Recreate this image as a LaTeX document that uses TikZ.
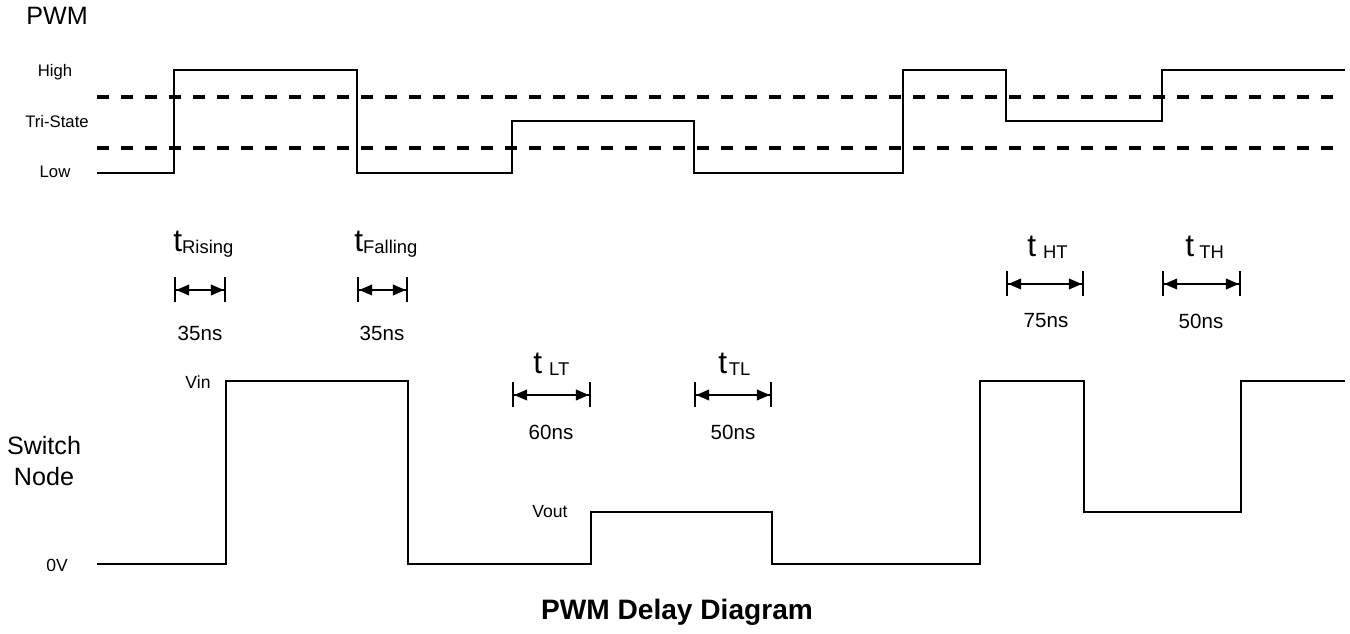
\documentclass[tikz,border=0pt]{standalone}
\usepackage{fontspec}
\setmainfont{Liberation Sans}
\usetikzlibrary{arrows.meta}

\newcommand{\tdelay}[2]{{\fontsize{18}{18}\selectfont t}\hspace{#1}\raisebox{-1pt}{\fontsize{10.5}{10.5}\selectfont #2}}

\begin{document}
\begin{tikzpicture}[x=0.02cm,y=-0.02cm,
    wave/.style={line width=1.2pt,line join=miter},
    level/.style={line width=2.2pt,dash pattern=on 0.24cm off 0.24cm},
    dimarrow/.style={line width=1.2pt,{Bar[width=0.5cm]Triangle[length=0.26cm,width=0.21cm]}-{Triangle[length=0.26cm,width=0.21cm]Bar[width=0.5cm]}},
    lbl/.style={anchor=base,inner sep=0pt,font=\fontsize{9.5}{11}\selectfont},
    ns/.style={inner sep=0pt,font=\fontsize{11.7}{14}\selectfont},
    tname/.style={anchor=base west,inner sep=0pt}]
    \useasboundingbox (0,0) rectangle (1350,634);
    %% PWM input
    \node[lbl,font=\fontsize{14.3}{17}\selectfont] (pwm) at (57,25) {PWM};
    \node[lbl] (high) at (55,77) {High};
    \node[lbl] (tri) at (57,128) {Tri-State};
    \node[lbl] (low) at (55,178) {Low};
    \draw[level] (97,97) -- (1337,97);
    \draw[level] (97,148) -- (1337,148);
    \draw[wave] (97,173) -| (174,70) -| (357,173) -| (512,121) -| (694,173)
        -| (903,70) -| (1006,121) -| (1162,70) -- (1345,70);
    %% switch node
    \node[inner sep=0pt,align=center,font=\fontsize{14.3}{17.6}\selectfont] (sw) at (44,461) {Switch\\Node};
    \node[lbl,font=\fontsize{10}{12}\selectfont] (vin) at (198,389) {Vin};
    \node[lbl,font=\fontsize{10}{12}\selectfont] (vzero) at (57,572) {0V};
    \node[lbl,font=\fontsize{10}{12}\selectfont] (vout) at (550,518) {Vout};
    \draw[wave] (97,564) -| (226,381) -| (408,564) -| (591,512) -| (772,564)
        -| (980,381) -| (1084,512) -| (1241,381) -- (1345,381);
    %% delays
    \coordinate (rise l) at (174,290);
    \coordinate (rise r) at (226,290);
    \coordinate (fall l) at (357,290);
    \coordinate (fall r) at (408,290);
    \coordinate (lt l) at (512,395);
    \coordinate (lt r) at (591,395);
    \coordinate (tl l) at (694,395);
    \coordinate (tl r) at (772,395);
    \coordinate (ht l) at (1006,284);
    \coordinate (ht r) at (1084,284);
    \coordinate (th l) at (1162,284);
    \coordinate (th r) at (1241,284);
    \draw[dimarrow] (rise l) -- (rise r);
    \draw[dimarrow] (fall l) -- (fall r);
    \draw[dimarrow] (lt l) -- (lt r);
    \draw[dimarrow] (tl l) -- (tl r);
    \draw[dimarrow] (ht l) -- (ht r);
    \draw[dimarrow] (th l) -- (th r);
    \node[tname] (trise) at (173,252) {\tdelay{0pt}{Rising}};
    \node[tname] (tfall) at (354,252) {\tdelay{0pt}{Falling}};
    \node[tname] (tlt) at (533,374) {\tdelay{4pt}{LT}};
    \node[tname] (ttl) at (718,374) {\tdelay{1pt}{TL}};
    \node[tname] (tht) at (1027,257) {\tdelay{4pt}{HT}};
    \node[tname] (tth) at (1185,257) {\tdelay{3pt}{TH}};
    \node[ns] (nrise) at (200,333) {35ns};
    \node[ns] (nfall) at (382,333) {35ns};
    \node[ns] (nlt) at (551,432) {60ns};
    \node[ns] (ntl) at (733,432) {50ns};
    \node[ns] (nht) at (1046,321) {75ns};
    \node[ns] (nth) at (1201,321) {50ns};
    %% title
    \node[lbl,font=\fontsize{16}{19}\selectfont\bfseries] (title) at (677,620) {PWM Delay Diagram};
\end{tikzpicture}
\end{document}
